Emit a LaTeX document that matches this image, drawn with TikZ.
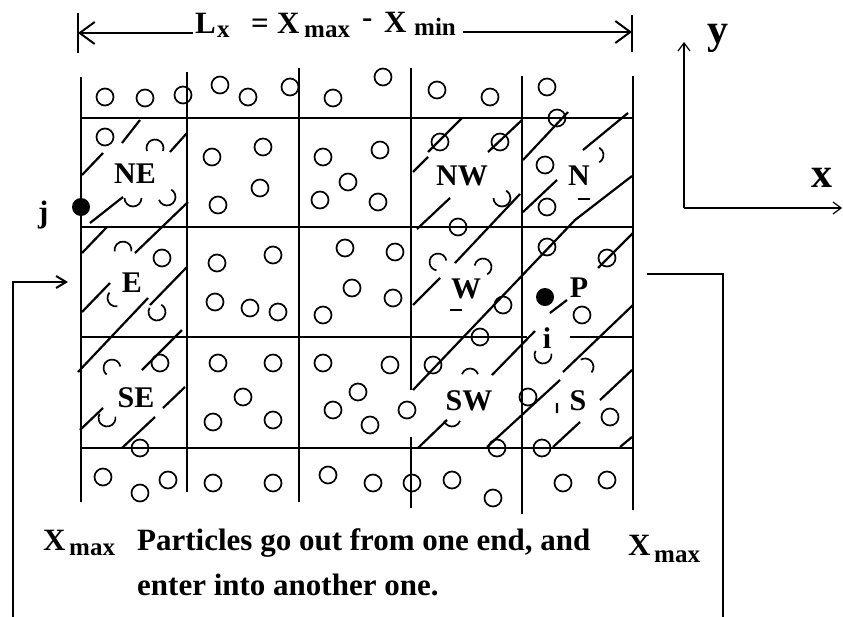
\documentclass[tikz,border=0pt]{standalone}
\usepackage{fontspec}
\setmainfont{Liberation Serif}
\usetikzlibrary{arrows.meta}
\tikzset{
  gridline/.style={line width=2.6pt},
  hatch/.style={line width=2.2pt},
  particle/.style={line width=1.7pt},
  dot/.style={fill=black},
  lbl/.style={font=\fontsize{30}{30}\selectfont\bfseries, inner sep=0pt, anchor=base},
  subtxt/.style={font=\fontsize{25}{25}\selectfont\bfseries, inner sep=0pt, anchor=base west},
  bigtxt/.style={font=\fontsize{31}{31}\selectfont\bfseries, inner sep=0pt, anchor=base west},
  axtxt/.style={font=\fontsize{42}{42}\selectfont\bfseries, inner sep=0pt, anchor=base west},
  dimarrow/.style={line width=2pt, -{Straight Barb[length=15pt,width=22pt,line width=2pt]}},
  brarrow/.style={line width=2.4pt, -{Straight Barb[length=10pt,width=12pt,line width=2pt]}},
  axarrow/.style={line width=1.4pt, -{Straight Barb[length=8pt,width=12pt,line width=1.2pt]}},
}
\newcommand\pcl[2]{\draw[particle] (#1,#2) circle[radius=8.5];}
\newcommand\parc[4]{\pgfmathsetmacro\myA{-(#3)}\pgfmathsetmacro\myB{-(#4)}%
  \draw[particle] ([shift={(\myA:8.5)}]#1,#2) arc[start angle=\myA, end angle=\myB, radius=8.5];}
\begin{document}
\begin{tikzpicture}[x=1pt,y=-1pt]
\useasboundingbox (0,0) rectangle (843,616);
\fill[white] (0,0) rectangle (843,616);

% ---------- grid ----------
\draw[gridline] (81,77) -- (81,502);
\draw[gridline] (187,72) -- (187,492);
\draw[gridline] (299,68) -- (299,502);
\draw[gridline] (411,68) -- (411,390) (411,437) -- (411,508);
\draw[gridline] (522,76) -- (522,514);
\draw[gridline] (633,76) -- (633,510);
\draw[gridline] (81,118) -- (633,118);
\draw[gridline] (81,227) -- (633,227);
\draw[gridline] (81,337) -- (527,337) (570,337) -- (633,337);
\draw[gridline] (81,448) -- (633,448);

% ---------- hatching ----------
\draw[hatch] (82,175)--(103,153) (122,143)--(140,120) (170,152)--(187,133)
  (90,223)--(123,197) (135,253)--(188,202) (82,253)--(107,227)
  (82,312)--(110,283) (150,305)--(187,267) (78,372)--(148,298)
  (142,370)--(182,330) (163,408)--(185,387) (80,430)--(103,408)
  (122,448)--(155,417);
\draw[hatch] (413,172)--(428,157) (428,152)--(462,118) (488,152)--(522,120)
  (523,160)--(568,112) (583,150)--(628,113) (523,212)--(557,180)
  (413,390)--(575,220)--(632,176) (417,229)--(450,198) (455,263)--(520,194)
  (413,305)--(440,278) (492,375)--(535,331) (598,268)--(633,233)
  (550,313)--(567,300) (563,372)--(633,305) (418,448)--(447,420)
  (487,447)--(560,380) (553,447)--(580,422) (600,400)--(632,370)
  (620,447)--(632,437) (557,403)--(557,413);

% ---------- particles ----------
% top row
\pcl{105}{97}\pcl{145}{98}\pcl{183}{95}\pcl{220}{85}\pcl{248}{97}\pcl{290}{87}
\pcl{333}{98}\pcl{383}{77}\pcl{437}{90}\pcl{490}{97}\pcl{547}{87}\pcl{557}{118}
% row 1
\pcl{105}{137}
\pcl{212}{157}\pcl{263}{147}\pcl{260}{188}\pcl{218}{205}
\pcl{323}{157}\pcl{348}{182}\pcl{320}{200}\pcl{380}{150}\pcl{378}{202}
\pcl{440}{142}\pcl{500}{142}\pcl{458}{227}
\pcl{545}{165}\pcl{547}{207}
% row 2
\pcl{162}{258}
\pcl{217}{263}\pcl{273}{255}\pcl{215}{302}\pcl{250}{308}\pcl{278}{312}
\pcl{345}{248}\pcl{395}{252}\pcl{352}{288}\pcl{393}{298}\pcl{323}{315}
\pcl{503}{305}\pcl{480}{337}
\pcl{547}{247}\pcl{607}{258}\pcl{582}{315}
% row 3
\pcl{160}{363}\pcl{140}{448}
\pcl{218}{363}\pcl{273}{363}\pcl{243}{397}\pcl{213}{422}\pcl{273}{420}
\pcl{323}{363}\pcl{390}{365}\pcl{358}{392}\pcl{333}{410}\pcl{407}{410}\pcl{370}{425}
\pcl{433}{365}\pcl{497}{448}\pcl{528}{397}
\pcl{610}{417}\pcl{542}{448}
% bottom row
\pcl{103}{477}\pcl{140}{493}\pcl{168}{480}\pcl{213}{483}\pcl{273}{483}\pcl{328}{475}
\pcl{373}{483}\pcl{412}{483}\pcl{452}{480}\pcl{493}{498}\pcl{563}{483}\pcl{607}{480}
% partial particles
\parc{155}{148}{-20}{200}
\parc{133}{198}{180}{360}
\parc{167}{197}{200}{420}
\parc{123}{250}{-10}{190}
\parc{116}{298}{140}{280}
\parc{157}{312}{150}{420}
\parc{502}{198}{180}{420}
\parc{438}{262}{10}{260}
\parc{483}{267}{-60}{170}
\parc{595}{155}{-60}{60}
\parc{112}{368}{10}{230}
\parc{107}{418}{150}{370}
\parc{470}{377}{20}{160}
\parc{452}{418}{200}{340}
\parc{543}{355}{150}{370}
\parc{585}{367}{-40}{120}
\draw[particle] (450,310) -- (462,310) (578,199) -- (590,199);

% ---------- special particles ----------
\fill[dot] (81,207) circle[radius=9];
\fill[dot] (545,297) circle[radius=9];

% ---------- cell labels ----------
\node[lbl] (NE) at (135,183) {NE};
\node[lbl] (NW) at (462,185) {NW};
\node[lbl] (N)  at (579,185) {N};
\node[lbl] (E)  at (132,292) {E};
\node[lbl] (W)  at (466,298) {W};
\node[lbl] (P)  at (579,297) {P};
\node[lbl] (SE) at (136,407) {SE};
\node[lbl] (SW) at (469,410) {SW};
\node[lbl] (S)  at (578,410) {S};
\node[lbl] (i)  at (547,348) {i};
\node[bigtxt] (j) at (38,222) {j};

% ---------- dimension L_x ----------
\node[bigtxt] (L) at (195,33) {L};
\node[subtxt] (Lsub) at (217,37) {x};
\node[bigtxt] (eq) at (251,33) {=};
\node[bigtxt] (X1) at (277,33) {X};
\node[subtxt] (max1) at (304,37) {max};
\node[bigtxt] (minus) at (362,27) {-};
\node[bigtxt] (X2) at (384,32) {X};
\node[subtxt] (min) at (414,35) {min};
\coordinate (tl) at (78,33);
\coordinate (tr) at (632,32);
\draw[dimarrow] ([xshift=-2pt]L.base west) -- (tl);
\draw[dimarrow] (463,32) -- (tr);
\draw[line width=2.2pt] (78,13) -- (78,53);
\draw[line width=2.2pt] (632,15) -- (632,52);

% ---------- axes ----------
\coordinate (O) at (684,208);
\coordinate (ytip) at (684,42);
\coordinate (xtip) at (842,208);
\draw[axarrow] (O) -- (ytip);
\draw[axarrow] (O) -- (xtip);
\node[axtxt] (ylab) at (707,43) {y};
\node[axtxt] (xlab) at (811,187) {x};

% ---------- periodic boundary brackets ----------
\coordinate (bl0) at (13,618);
\coordinate (bl1) at (13,282);
\coordinate (bl2) at (68,282);
\draw[line width=2.4pt] (bl0) -- (bl1);
\draw[brarrow] ([xshift=-1.2pt]bl1) -- (bl2);
\coordinate (br0) at (647,274);
\coordinate (br1) at (723,274);
\coordinate (br2) at (723,618);
\draw[line width=2.4pt] (br0) -- (br1) -- (br2);

% ---------- bottom texts ----------
\node[bigtxt] (Xl) at (43,550) {X};
\node[subtxt] (maxl) at (69,555) {max};
\node[bigtxt] (Xr) at (628,555) {X};
\node[subtxt] (maxr) at (654,562) {max};
\node[bigtxt] (t1) at (137,550) {Particles go out from one end, and};
\node[bigtxt] (t2) at (137,595) {enter into another one.};
\end{tikzpicture}
\end{document}
